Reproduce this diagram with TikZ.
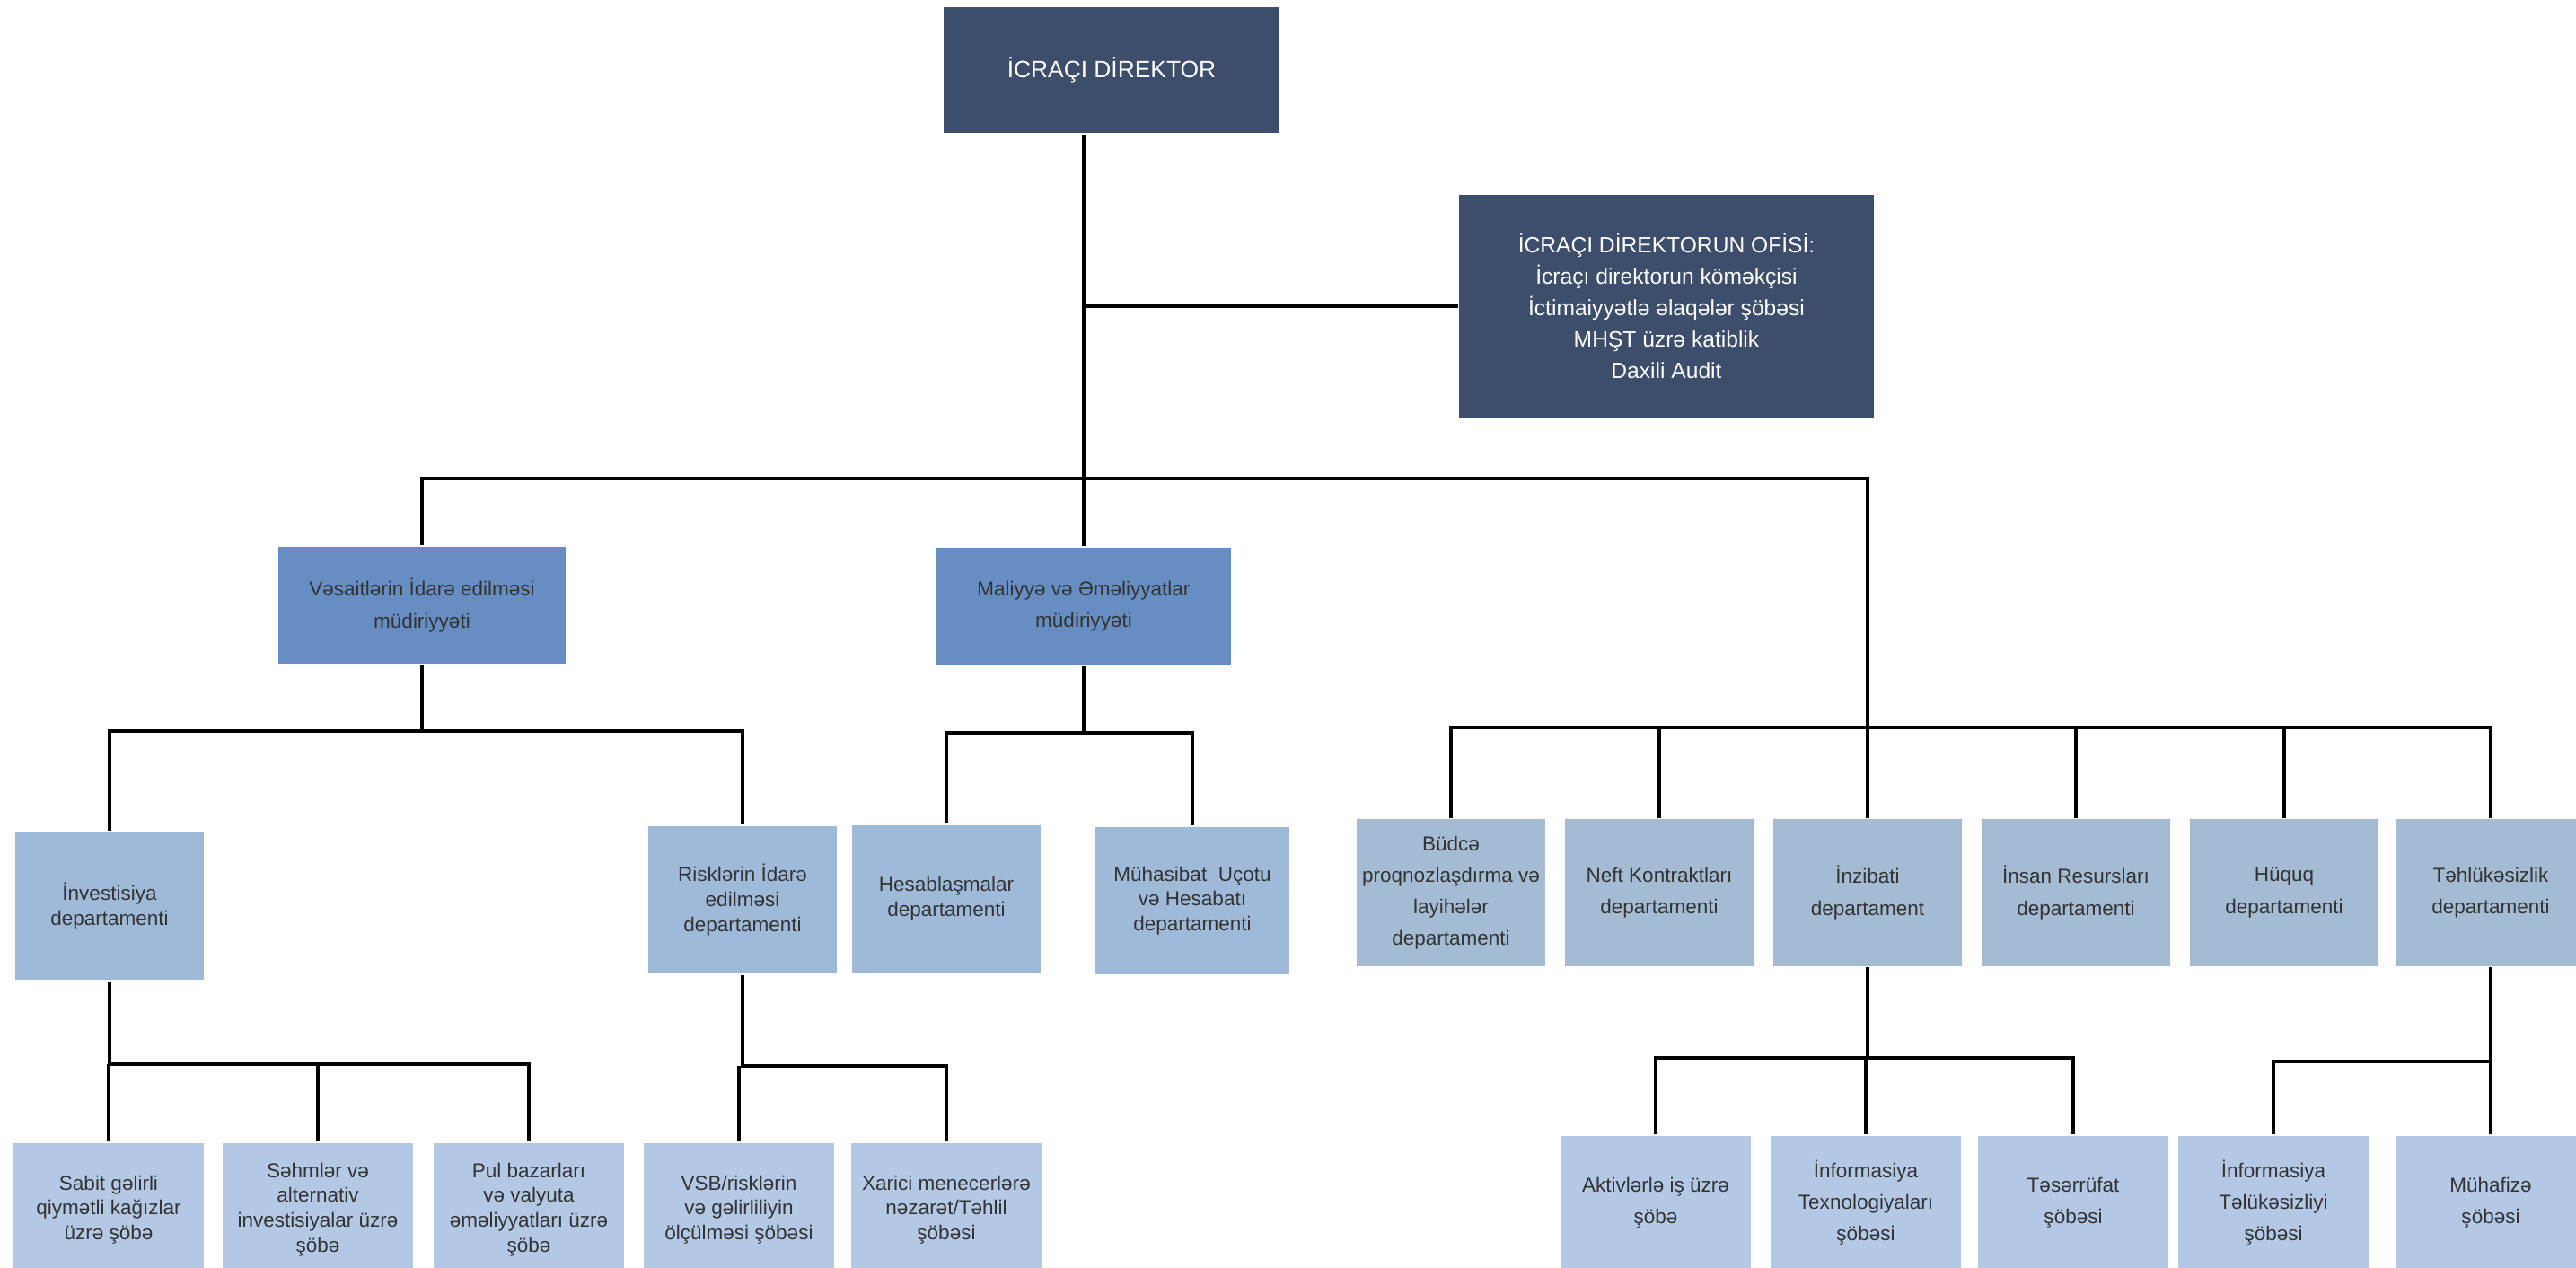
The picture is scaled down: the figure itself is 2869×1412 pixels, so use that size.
\documentclass[tikz,border=0pt]{standalone}
\usepackage{fontspec}
\setmainfont{Liberation Sans}
\usepackage{tikz}
\usetikzlibrary{positioning}
\definecolor{dirblue}{RGB}{60,78,108}
\definecolor{mgmtblue}{RGB}{102,142,194}
\definecolor{deptblue}{RGB}{158,186,216}
\definecolor{deptgray}{RGB}{163,187,211}
\definecolor{unitblue}{RGB}{178,200,228}

\begin{document}
\begin{tikzpicture}[x=0.01cm, y=-0.01cm,
  every node/.style={rectangle, inner sep=0pt, align=center, text=black!80, font=\fontsize{6.4}{10}\selectfont},
  head/.style={fill=dirblue, text=white, font=\fontsize{7}{10}\selectfont},
  mgmt/.style={fill=mgmtblue, minimum width=3.2cm, minimum height=1.3cm},
  dept/.style={fill=deptblue, minimum width=2.1cm, minimum height=1.64cm},
  deptr/.style={fill=deptgray, minimum width=2.1cm, minimum height=1.63cm},
  unit/.style={fill=unitblue, minimum width=2.11cm, minimum height=1.48cm},
  tight/.style={font=\fontsize{6.4}{7.9}\selectfont},
  line width=0.9pt]
  \useasboundingbox (0,0) rectangle (2869,1412);
  \clip (0,0) rectangle (2869,1412);

  \node[head, minimum width=3.73cm, minimum height=1.4cm, font=\fontsize{7.5}{10}\selectfont] (dir) at (1238,78) {İCRAÇI DİREKTOR};
  \node[head, minimum width=4.61cm, minimum height=2.47cm] (off) at (1856,341) {İCRAÇI DİREKTORUN OFİSİ:\\İcraçı direktorun köməkçisi\\İctimaiyyətlə əlaqələr şöbəsi\\MHŞT üzrə katiblik\\Daxili Audit};

  \node[mgmt] (vas) at (470,674) {Vəsaitlərin İdarə edilməsi\\müdiriyyəti};
  \node[mgmt, minimum width=3.28cm] (mal) at (1207,675) {Maliyyə və Əməliyyatlar\\müdiriyyəti};

  \node[dept, tight] (inv) at (122,1009) {İnvestisiya\\departamenti};
  \node[dept, tight] (risk) at (827,1002) {Risklərin İdarə\\edilməsi\\departamenti};
  \node[dept, tight] (hes) at (1054,1001) {Hesablaşmalar\\departamenti};
  \node[dept, tight, minimum width=2.16cm] (muh) at (1328,1003) {Mühasibat\ \ Uçotu\\və Hesabatı\\departamenti};

  \node[deptr] (bud) at (1616,994) {Büdcə\\proqnozlaşdırma və\\layihələr\\departamenti};
  \node[deptr] (neft) at (1848,994) {Neft Kontraktları\\departamenti};
  \node[deptr] (inz) at (2080,994) {İnzibati\\departament};
  \node[deptr] (ins) at (2312,994) {İnsan Resursları\\departamenti};
  \node[deptr] (huq) at (2544,994) {Hüquq\\departamenti};
  \node[deptr] (teh) at (2774,994) {Təhlükəsizlik\\departamenti};

  \node[unit, tight] (sab) at (121,1347) {Sabit gəlirli\\qiymətli kağızlar\\üzrə şöbə};
  \node[unit, tight] (seh) at (354,1347) {Səhmlər və\\alternativ\\investisiyalar üzrə\\şöbə};
  \node[unit, tight] (pul) at (589,1347) {Pul bazarları\\və valyuta\\əməliyyatları üzrə\\şöbə};
  \node[unit, tight] (vsb) at (823,1347) {VSB/risklərin\\və gəlirliliyin\\ölçülməsi şöbəsi};
  \node[unit, tight] (xar) at (1054,1347) {Xarici menecerlərə\\nəzarət/Təhlil\\şöbəsi};

  \node[unit] (akt) at (1844,1339) {Aktivlərlə iş üzrə\\şöbə};
  \node[unit] (it) at (2078,1339) {İnformasiya\\Texnologiyaları\\şöbəsi};
  \node[unit] (tes) at (2309,1339) {Təsərrüfat\\şöbəsi};
  \node[unit] (inft) at (2532,1339) {İnformasiya\\Təlükəsizliyi\\şöbəsi};
  \node[unit] (muhf) at (2774,1339) {Mühafizə\\şöbəsi};

  \coordinate (bus1) at (0,533);
  \coordinate (bus2) at (0,810);
  \coordinate (bus3) at (0,814);
  \coordinate (bus4) at (0,816);
  \coordinate (bus5) at (0,1185);
  \coordinate (bus6) at (0,1187);
  \coordinate (bus7) at (0,1178);
  \coordinate (bus8) at (0,1182);

  \draw (dir.south -| mal.north) -- (mal.north);
  \draw (mal.north |- off.west) -- (off.west);
  \draw (vas.north) |- (bus1 -| inz.north) -- (inz.north);
  \draw (bud.north) |- (bus2 -| teh.north) -- (teh.north);
  \foreach \n in {neft,ins,huq}
    \draw (\n.north) -- (\n.north |- bus2);
  \draw (vas.south) -- (vas.south |- bus3);
  \draw (inv.north) |- (bus3 -| risk.north) -- (risk.north);
  \draw (mal.south) -- (mal.south |- bus4);
  \draw (hes.north) |- (bus4 -| muh.north) -- (muh.north);
  \draw (inv.south) |- (bus5 -| pul.north) -- (pul.north);
  \draw (sab.north) -- (sab.north |- bus5);
  \draw (seh.north) -- (seh.north |- bus5);
  \draw (risk.south) |- (bus6 -| xar.north) -- (xar.north);
  \draw (vsb.north) -- (vsb.north |- bus6);
  \draw (inz.south) -- (inz.south |- bus7);
  \draw (akt.north) |- (bus7 -| tes.north) -- (tes.north);
  \draw (it.north) -- (it.north |- bus7);
  \draw (teh.south) |- (bus8 -| inft.north) -- (inft.north);
  \draw (muhf.north) -- (muhf.north |- bus8);
\end{tikzpicture}
\end{document}
